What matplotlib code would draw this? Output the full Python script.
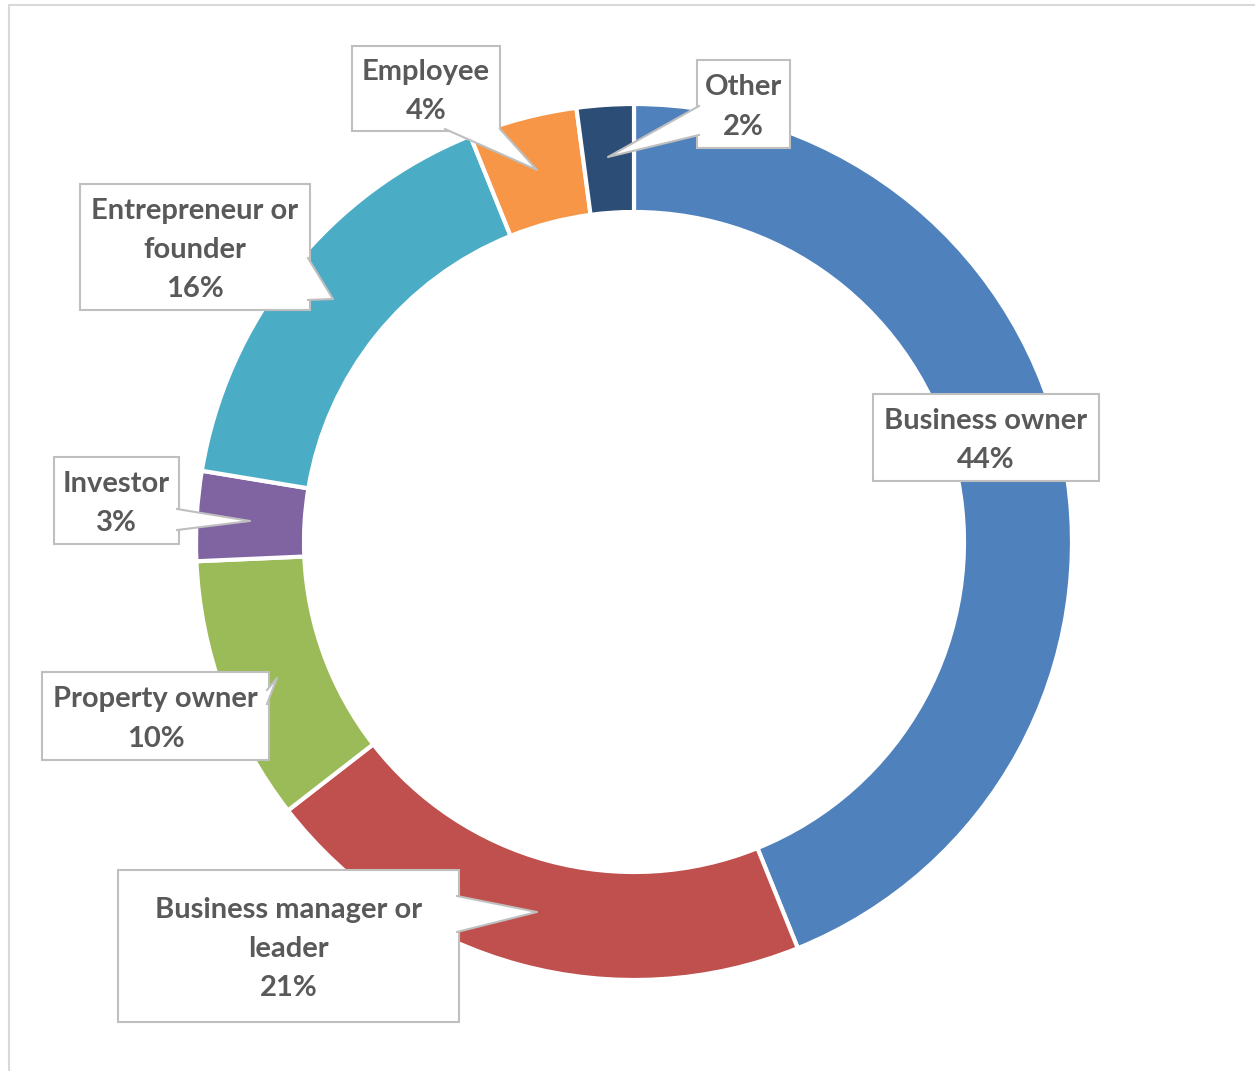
"""Donut chart: respondents by role."""
import matplotlib
matplotlib.use("Agg")
import matplotlib.pyplot as plt
from matplotlib.patches import Rectangle, Polygon

W, H = 1255, 1071

categories = ["Business owner", "Business manager or\nleader", "Property owner",
              "Investor", "Entrepreneur or\nfounder", "Employee", "Other"]
shares = [43.9, 20.6, 9.8, 3.3, 16.3, 4.0, 2.1]
colors = ["#4F81BD", "#C0504D", "#9BBB59", "#8064A2", "#4BACC6", "#F79646", "#2C4D75"]

# callout layout in pixel coords: box (x0, y0, x1, y1), pointer base a, base b, tip
callouts = [
    ((873, 394, 1099, 481), None),
    ((118, 870, 459, 1022), ((457, 896), (457, 932), (537, 912))),
    ((42, 672, 269, 760), ((267, 690), (267, 704), (277, 678))),
    ((54, 457, 179, 544), ((177, 509), (177, 530), (250, 521))),
    ((80, 184, 310, 310), ((308, 258), (308, 300), (333, 299))),
    ((352, 46, 500, 131), ((445, 129), (500, 129), (537, 170))),
    ((697, 60, 790, 148), ((699, 106), (699, 135), (608, 157))),
]


def Y(y):
    return H - y


fig = plt.figure(figsize=(W / 100, H / 100), dpi=100)
ax = fig.add_axes([0, 0, 1, 1])

# outer frame
ax.add_patch(Rectangle((9, Y(1080)), W, 1075, fill=False, edgecolor="#d9d9d9", lw=1.5))

ax.pie(shares, colors=colors, startangle=90, counterclock=False,
       center=(634, Y(542)), radius=438, frame=True,
       wedgeprops=dict(width=108, edgecolor="white", linewidth=3))
ax.set_xlim(0, W)
ax.set_ylim(0, H)
ax.set_aspect("equal")
ax.axis("off")

edge = "#bfbfbf"
for name, val, (box, ptr) in zip(categories, shares, callouts):
    x0, y0, x1, y1 = box
    ax.add_patch(Rectangle((x0, Y(y1)), x1 - x0, y1 - y0, facecolor="white",
                           edgecolor=edge, lw=1.5, zorder=3))
    if ptr:
        a, b, t = ptr
        pts = [(a[0], Y(a[1])), (t[0], Y(t[1])), (b[0], Y(b[1]))]
        ax.add_patch(Polygon(pts, closed=True, facecolor="white", edgecolor="none", zorder=4))
        ax.plot([p[0] for p in pts], [p[1] for p in pts], color=edge, lw=1.5, zorder=5)
    ax.text((x0 + x1) / 2, Y((y0 + y1) / 2 + 3), f"{name}\n{int(val + 0.5)}%",
            ha="center", va="center",
            fontsize=21, fontweight="bold", family="Lato", color="#595959",
            linespacing=1.64, zorder=6)

fig.savefig("out.png", dpi=100)
